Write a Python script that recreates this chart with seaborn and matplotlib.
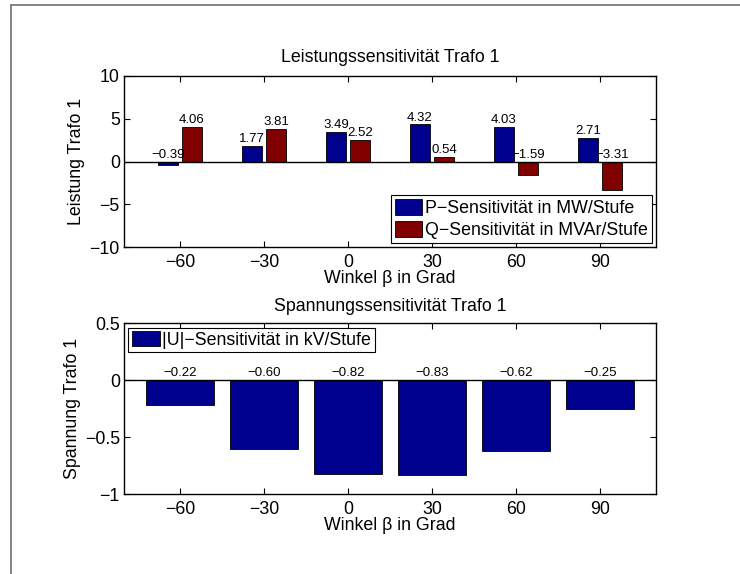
import numpy as np
import pandas as pd
import matplotlib
matplotlib.use("Agg")
import matplotlib.pyplot as plt
from matplotlib.lines import Line2D
import seaborn as sns

# Data
winkel = ["-60", "-30", "0", "30", "60", "90"]
winkel_labels = ["\u221260", "\u221230", "0", "30", "60", "90"]
p_sens = [-0.39, 1.77, 3.49, 4.32, 4.03, 2.71]
q_sens = [4.06, 3.81, 2.52, 0.54, -1.59, -3.31]
u_sens = [-0.22, -0.60, -0.82, -0.83, -0.62, -0.25]

p_name = "P\u2212Sensitivität in MW/Stufe"
q_name = "Q\u2212Sensitivität in MVAr/Stufe"
u_name = "|U|\u2212Sensitivität in kV/Stufe"

blue = "#00008F"
red = "#800000"

sns.set_theme(style="white")
plt.rcParams["font.family"] = ["Liberation Sans", "DejaVu Sans"]
plt.rcParams.update({
    "axes.edgecolor": "black",
    "axes.linewidth": 1.0,
    "xtick.direction": "in",
    "ytick.direction": "in",
    "xtick.top": True,
    "ytick.right": True,
    "xtick.bottom": True,
    "ytick.left": True,
    "xtick.major.size": 4,
    "ytick.major.size": 4,
    "xtick.major.width": 0.8,
    "ytick.major.width": 0.8,
    "xtick.color": "black",
    "ytick.color": "black",
    "text.color": "black",
    "axes.labelcolor": "black",
})

FS = 12.8
VFS = 9.5

df_top = pd.DataFrame({
    "winkel": winkel * 2,
    "wert": p_sens + q_sens,
    "typ": [p_name] * len(winkel) + [q_name] * len(winkel),
})
df_bot = pd.DataFrame({"winkel": winkel, "wert": u_sens, "typ": [u_name] * len(winkel)})

fig = plt.figure(figsize=(7.4, 5.74), dpi=100)
ax1 = fig.add_axes([0.1676, 0.5692, 0.8865 - 0.1676, 0.868 - 0.5692])
ax2 = fig.add_axes([0.1676, 0.1389, 0.8865 - 0.1676, 0.4367 - 0.1389])


def fmt(v):
    return f"{v:.2f}".replace("-", "\u2212")


def style_axis(ax):
    ax.set_xlim(-0.667, 5.667)
    ax.set_xticks(range(len(winkel)))
    ax.set_xticklabels(winkel_labels, fontsize=FS)
    ax.tick_params(axis="x", labelsize=FS, pad=5)
    ax.tick_params(axis="y", labelsize=FS, pad=3)
    ax.axhline(0, color="black", lw=1.0, zorder=3)
    for s in ax.spines.values():
        s.set_visible(True)
        s.set_color("black")
    ax.set_xlabel("Winkel \u03b2 in Grad", fontsize=FS, labelpad=-1)


# Power sensitivity
sns.barplot(data=df_top, x="winkel", y="wert", hue="typ", order=winkel,
            hue_order=[p_name, q_name], palette=[blue, red],
            width=2 / 3.5, gap=0.2, edgecolor="black", linewidth=0.6,
            errorbar=None, saturation=1, ax=ax1)
for cont, vals in zip(ax1.containers, [p_sens, q_sens]):
    for bar, v in zip(cont, vals):
        ax1.text(bar.get_x() + bar.get_width() / 2, max(v, 0) + 0.1, fmt(v),
                 ha="center", va="bottom", fontsize=VFS)
ax1.set_ylim(-10, 10)
ax1.set_yticks([-10, -5, 0, 5, 10])
ax1.set_yticklabels(["\u221210", "\u22125", "0", "5", "10"])
style_axis(ax1)
ax1.set_ylabel("Leistung Trafo 1", fontsize=FS, labelpad=3)
ax1.set_title("Leistungssensitivität Trafo 1", fontsize=FS, pad=10)
h, l = ax1.get_legend_handles_labels()
ax1.legend(h, l, loc="lower right", fontsize=FS, fancybox=False,
           edgecolor="black", framealpha=1, handlelength=1.55,
           handleheight=1.0, handletextpad=0.15, borderpad=0.22,
           labelspacing=0.2, borderaxespad=0.25)
ax1.get_legend().get_frame().set_linewidth(0.8)

# Voltage sensitivity
sns.barplot(data=df_bot, x="winkel", y="wert", hue="typ", order=winkel,
            palette=[blue], width=0.8, edgecolor="black", linewidth=0.6,
            errorbar=None, saturation=1, ax=ax2)
for bar, v in zip(ax2.containers[0], u_sens):
    ax2.text(bar.get_x() + bar.get_width() / 2, max(v, 0) + 0.012, fmt(v),
             ha="center", va="bottom", fontsize=VFS)
ax2.set_ylim(-1, 0.5)
ax2.set_yticks([-1, -0.5, 0, 0.5])
ax2.set_yticklabels(["\u22121", "\u22120.5", "0", "0.5"])
style_axis(ax2)
ax2.set_ylabel("Spannung Trafo 1", fontsize=FS, labelpad=3)
ax2.set_title("Spannungssensitivität Trafo 1", fontsize=FS, pad=9)
h, l = ax2.get_legend_handles_labels()
ax2.legend(h, l, loc="upper left", fontsize=FS, fancybox=False,
           edgecolor="black", framealpha=1, handlelength=1.55,
           handleheight=0.85, handletextpad=0.15, borderpad=0.2,
           borderaxespad=0.25)
ax2.get_legend().get_frame().set_linewidth(0.8)

# Outer frame lines
fig.add_artist(Line2D([11 / 740, 1], [1 - 5 / 574, 1 - 5 / 574],
                      transform=fig.transFigure, color="#707070", lw=1.2))
fig.add_artist(Line2D([11 / 740, 11 / 740], [0, 1 - 5 / 574],
                      transform=fig.transFigure, color="#707070", lw=1.2))

fig.savefig("out.png", dpi=100, facecolor="white")
